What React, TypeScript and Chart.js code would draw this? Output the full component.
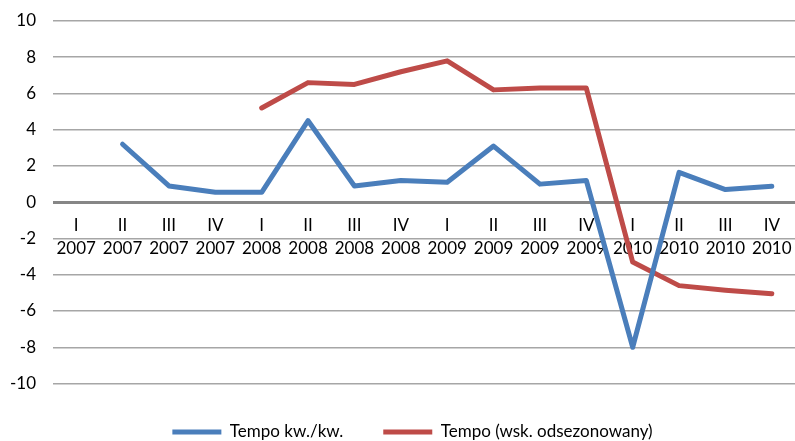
import React, { useEffect, useRef } from "react";
import { Chart, registerables } from "chart.js";

Chart.register(...registerables);

// Quarter / year labels for the category axis
const quarters = ["I", "II", "III", "IV", "I", "II", "III", "IV", "I", "II", "III", "IV", "I", "II", "III", "IV"];
const years = ["2007", "2007", "2007", "2007", "2008", "2008", "2008", "2008", "2009", "2009", "2009", "2009", "2010", "2010", "2010", "2010"];

// Series values
const tempoKwKw = [null, 3.2, 0.9, 0.55, 0.55, 4.5, 0.9, 1.2, 1.1, 3.1, 1.0, 1.2, -8.0, 1.65, 0.7, 0.88];
const tempoOdsezonowany = [null, null, null, null, 5.2, 6.6, 6.5, 7.2, 7.8, 6.2, 6.3, 6.3, -3.3, -4.6, -4.85, -5.05];

// Value axis range
const yMin = -10;
const yMax = 10;
const yStep = 2;

const FONT = "Lato";

// Nudges the legend row a little to the right of the default centring
const legendShift = {
  id: "legendShift",
  afterLayout(chart: any) {
    const legend = chart.legend;
    if (legend) {
      legend.left += 10;
      legend.right += 10;
    }
  },
};

export default function App() {
  const canvasRef = useRef<HTMLCanvasElement | null>(null);

  useEffect(() => {
    const canvas = canvasRef.current;
    if (!canvas) return;
    const labels = quarters.map((q, i) => [q, years[i]]);

    const chart = new Chart(canvas, {
      type: "line",
      data: {
        labels,
        datasets: [
          {
            label: "Tempo kw./kw.",
            data: tempoKwKw,
            borderColor: "#4a7ebb",
            backgroundColor: "#4a7ebb",
            borderWidth: 5,
            borderCapStyle: "round",
            borderJoinStyle: "round",
            pointRadius: 0,
            pointHoverRadius: 0,
            tension: 0,
            spanGaps: false,
          },
          {
            label: "Tempo (wsk. odsezonowany)",
            data: tempoOdsezonowany,
            borderColor: "#be4b48",
            backgroundColor: "#be4b48",
            borderWidth: 5,
            borderCapStyle: "round",
            borderJoinStyle: "round",
            pointRadius: 0,
            pointHoverRadius: 0,
            tension: 0,
            spanGaps: false,
          },
        ],
      },
      plugins: [legendShift],
      options: {
        responsive: false,
        animation: false,
        layout: { padding: { left: 10, right: 0, top: 21, bottom: -9.5 } },
        plugins: {
          tooltip: { enabled: false },
          legend: {
            position: "bottom",
            labels: {
              usePointStyle: true,
              pointStyle: "line",
              pointStyleWidth: 49,
              padding: 40,
              color: "#000",
              font: { family: FONT, size: 17 },
            },
          },
        },
        scales: {
          x: {
            type: "category",
            position: { y: 0 },
            offset: true,
            grid: { display: false, drawTicks: false },
            border: { display: false },
            ticks: {
              color: "#000",
              padding: 12,
              maxRotation: 0,
              autoSkip: false,
              font: { family: FONT, size: 17, lineHeight: "23px" },
            },
            afterFit: (scale: any) => {
              scale.paddingLeft = 0;
              scale.paddingRight = 0;
            },
          },
          y: {
            min: yMin,
            max: yMax,
            border: { display: false },
            grid: {
              drawTicks: false,
              color: (ctx: any) => (ctx.tick && ctx.tick.value === 0 ? "#868686" : "#a6a6a6"),
              lineWidth: (ctx: any) => (ctx.tick && ctx.tick.value === 0 ? 3 : 1.5),
            },
            ticks: {
              stepSize: yStep,
              color: "#000",
              padding: 17,
              font: { family: FONT, size: 17 },
            },
            afterFit: (scale: any) => {
              scale.width = 43;
              scale.paddingTop = 0;
              scale.paddingBottom = 0;
            },
          },
        },
      },
    });

    return () => chart.destroy();
  }, []);

  return (
    <div style={{ position: "fixed", left: 0, top: 0, width: 795, height: 441, background: "#fff" }}>
      <canvas ref={canvasRef} width={795} height={441} style={{ width: 795, height: 441, display: "block" }} />
    </div>
  );
}
